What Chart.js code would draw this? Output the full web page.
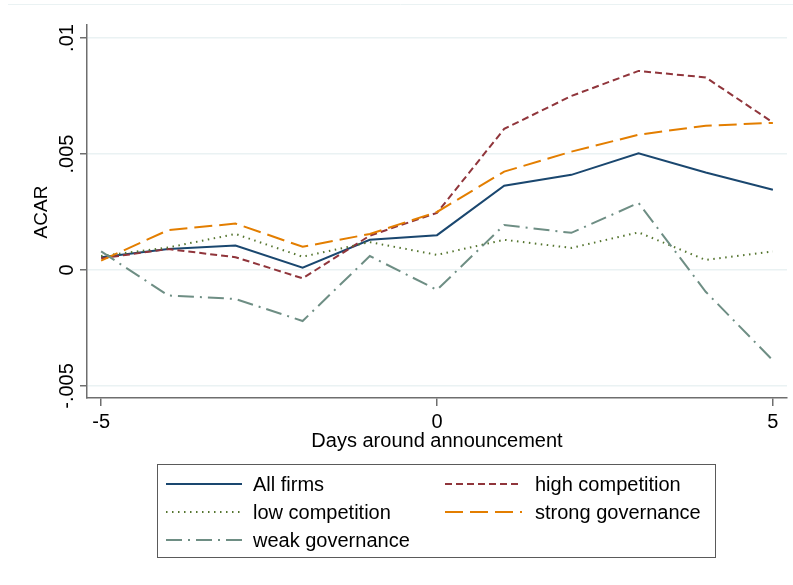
<!DOCTYPE html>
<html>
<head>
<meta charset="utf-8">
<script src="https://cdn.jsdelivr.net/npm/chart.js@4.4.1/dist/chart.umd.min.js"></script>
<style>
  html, body { margin: 0; padding: 0; background: #ffffff; }
  #wrap { width: 793px; height: 585px; position: relative; }
</style>
</head>
<body>
<div id="wrap"><canvas id="c" width="793" height="585"></canvas></div>
<script>
// ---- data ----
const days = [-5, -4, -3, -2, -1, 0, 1, 2, 3, 4, 5];
const allFirms        = [0.00055, 0.0009, 0.00105, 0.0001, 0.0013, 0.0015, 0.00363, 0.0041, 0.00503, 0.0042, 0.00346];
const highCompetition = [0.0005, 0.0009, 0.00055, -0.00036, 0.00148, 0.00246, 0.00608, 0.0075, 0.00858, 0.0083, 0.00636];
const lowCompetition  = [0.0006, 0.00097, 0.00155, 0.00057, 0.0012, 0.00065, 0.0013, 0.00095, 0.00162, 0.00043, 0.0008];
const strongGovernance= [0.0004, 0.00172, 0.002, 0.001, 0.00155, 0.0025, 0.00424, 0.0051, 0.00583, 0.00622, 0.00634];
const weakGovernance  = [0.0008, -0.0011, -0.00125, -0.0022, 0.0006, -0.00086, 0.00194, 0.0016, 0.00289, -0.00094, -0.0039];
const seriesNames = ["All firms", "high competition", "low competition", "strong governance", "weak governance"];
const xTicks = [-5, 0, 5];
const yTicks = [-0.005, 0, 0.005, 0.01];
const yTickLabels = ["-.005", "0", ".005", ".01"];
const xTitle = "Days around announcement";
const yTitle = "ACAR";

const seriesValues = [allFirms, highCompetition, lowCompetition, strongGovernance, weakGovernance];
const seriesColors = ["#1a476f", "#90353b", "#55752f", "#e37e00", "#6e8e84"];
const seriesDash = [[], [7, 4], [1.5, 4.5], [18, 7], [16, 6, 2, 6]];

const FONT = "'Liberation Sans', Arial, sans-serif";
const AXIS = "#6e6e6e";

const datasets = seriesValues.map((vals, i) => ({
  label: seriesNames[i],
  data: days.map((d, j) => ({ x: d, y: vals[j] })),
  borderColor: seriesColors[i],
  backgroundColor: seriesColors[i],
  borderWidth: 2,
  borderDash: seriesDash[i],
  pointRadius: 0,
  tension: 0,
  fill: false,
  order: 5 - i
}));

const decor = {
  id: 'decor',
  beforeDraw(chart) {
    const ctx = chart.ctx;
    ctx.save();
    ctx.fillStyle = '#ffffff';
    ctx.fillRect(0, 0, chart.width, chart.height);
    ctx.strokeStyle = '#eaf2f3';
    ctx.lineWidth = 1;
    ctx.beginPath();
    ctx.moveTo(8, 4.5); ctx.lineTo(793, 4.5);
    ctx.stroke();
    ctx.restore();
  },
  afterDraw(chart) {
    const ctx = chart.ctx;
    const ys = chart.scales.y;
    const area = chart.chartArea;
    ctx.save();
    ctx.fillStyle = '#000000';
    // rotated y tick labels
    ctx.font = "20px " + FONT;
    ctx.textAlign = 'center';
    ctx.textBaseline = 'middle';
    yTicks.forEach((v, i) => {
      const py = ys.getPixelForValue(v);
      ctx.save();
      ctx.translate(67, py);
      ctx.rotate(-Math.PI / 2);
      ctx.fillText(yTickLabels[i], 0, 0);
      ctx.restore();
    });
    // y title
    ctx.save();
    ctx.font = "19px " + FONT;
    ctx.translate(42, 212);
    ctx.rotate(-Math.PI / 2);
    ctx.fillText(yTitle, 0, 0);
    ctx.restore();
    // x title
    ctx.font = "20px " + FONT;
    ctx.fillText(xTitle, (area.left + area.right) / 2, 441);

    // legend
    const bx = 157.5, by = 464.5, bw = 558, bh = 93;
    ctx.strokeStyle = '#5a5a5a';
    ctx.lineWidth = 1;
    ctx.strokeRect(bx, by, bw, bh);
    const rowsY = [484, 512, 540];
    const cols = [{k0: 166, k1: 242, t: 253}, {k0: 445, k1: 522, t: 535}];
    ctx.font = "20px " + FONT;
    ctx.textAlign = 'left';
    seriesNames.forEach((name, i) => {
      const c = cols[i % 2];
      const yy = rowsY[Math.floor(i / 2)];
      ctx.save();
      ctx.strokeStyle = seriesColors[i];
      ctx.lineWidth = 2;
      ctx.setLineDash(seriesDash[i]);
      ctx.beginPath();
      ctx.moveTo(c.k0, yy); ctx.lineTo(c.k1, yy);
      ctx.stroke();
      ctx.restore();
      ctx.fillStyle = '#000000';
      ctx.fillText(name, c.t, yy + 1);
    });
    ctx.restore();
  }
};

new Chart(document.getElementById('c'), {
  type: 'line',
  data: { datasets },
  options: {
    responsive: false,
    animation: false,
    devicePixelRatio: 1,
    layout: { padding: { left: 0, top: 25, right: 6, bottom: 0 } },
    plugins: { legend: { display: false }, tooltip: { enabled: false }, title: { display: false } },
    scales: {
      x: {
        type: 'linear',
        min: -5.21, max: 5.21,
        afterBuildTicks: s => { s.ticks = xTicks.map(v => ({ value: v })); },
        afterFit: s => { s.height = 187; },
        grid: { drawOnChartArea: false, drawTicks: true, tickLength: 8, tickColor: AXIS, lineWidth: 1.5 },
        border: { display: true, color: AXIS, width: 1.5 },
        ticks: { color: '#000', font: { family: FONT, size: 20 }, padding: 4, maxRotation: 0, autoSkip: false,
                 callback: v => String(v) }
      },
      y: {
        type: 'linear',
        min: -0.00552, max: 0.01056,
        afterBuildTicks: s => { s.ticks = yTicks.map(v => ({ value: v })); },
        afterFit: s => { s.width = 87; },
        grid: { drawOnChartArea: true, color: '#eaf2f3', lineWidth: 1.5, drawTicks: true, tickLength: 7, tickColor: AXIS },
        border: { display: true, color: AXIS, width: 1.5 },
        ticks: { display: false }
      }
    }
  },
  plugins: [decor]
});
</script>
</body>
</html>
